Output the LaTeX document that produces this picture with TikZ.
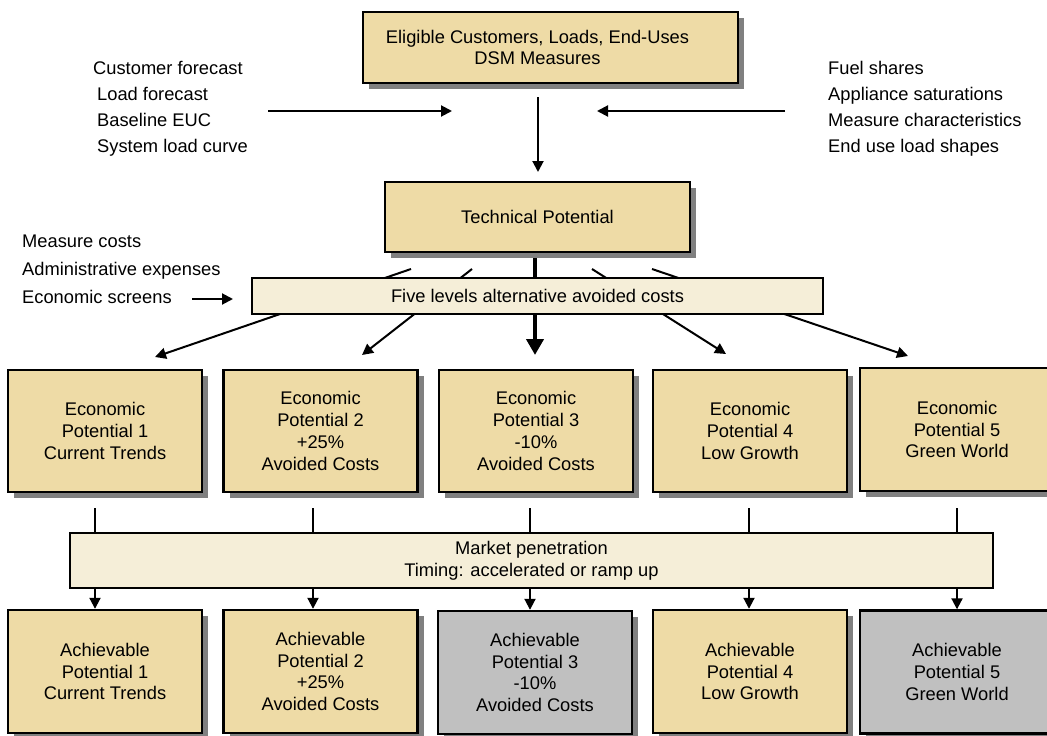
\documentclass[tikz,border=0pt]{standalone}
\usepackage{fontspec}
\setmainfont{Liberation Sans}
\usetikzlibrary{arrows.meta,shadows}
\definecolor{tanfill}{HTML}{EEDBA6}
\definecolor{creamfill}{HTML}{F5EED8}
\definecolor{greyfill}{HTML}{C0C0C0}
\definecolor{shadowgrey}{HTML}{808080}
\begin{document}
\begin{tikzpicture}[x=1pt,y=-1pt,
  every node/.style={font=\fontsize{18.3}{21.8}\selectfont, inner sep=0pt, align=center},
  shadowed/.style={drop shadow={shadow xshift=6pt, shadow yshift=-6pt, fill=shadowgrey, opacity=1}},
  tanbox/.style={draw=black, line width=2.4pt, fill=tanfill, shadowed},
  greybox/.style={draw=black, line width=2.4pt, fill=greyfill, shadowed},
  bar/.style={draw=black, line width=1.5pt, fill=creamfill},
  lbl/.style={anchor=base west},
  arr/.style={line width=2pt, -{Triangle[width=11pt,length=11pt]}},
  thickarr/.style={line width=4pt, -{Triangle[width=17pt,length=16pt]}},
  ln/.style={line width=2pt}
]
\useasboundingbox (0,0) rectangle (1047,736);

% top
\node[tanbox, minimum width=375pt, minimum height=71pt] (top) at (550.5,47.5)
  {\hspace*{-26pt}Eligible Customers, Loads, End-Uses\\\hspace*{-26pt}DSM Measures};
\node[lbl] (l1) at (93,74) {Customer forecast};
\node[lbl] (l2) at (97,100) {Load forecast};
\node[lbl] (l3) at (97,126) {Baseline EUC};
\node[lbl] (l4) at (97,152) {System load curve};
\node[lbl] (r1) at (828,74) {Fuel shares};
\node[lbl] (r2) at (828,100) {Appliance saturations};
\node[lbl] (r3) at (828,126) {Measure characteristics};
\node[lbl] (r4) at (828,152) {End use load shapes};
\coordinate (la0) at (268,111);
\coordinate (la1) at (452,111);
\coordinate (ra0) at (785,111);
\coordinate (ra1) at (597,111);
\draw[arr] (la0) -- (la1);
\draw[arr] (ra0) -- (ra1);

\node[tanbox, minimum width=305pt, minimum height=70pt] (tech) at (537.5,217) {Technical Potential};
\coordinate (va0) at (538,97);
\coordinate (va1) at (538,172);
\draw[arr] (va0) -- (va1);

\node[lbl] (m1) at (22,247) {Measure costs};
\node[lbl] (m2) at (22,275) {Administrative expenses};
\node[lbl] (m3) at (22,303) {Economic screens};
\coordinate (ea0) at (192,299);
\coordinate (ea1) at (233,299);
\draw[arr] (ea0) -- (ea1);

% economic boxes
\node[tanbox, minimum width=194pt, minimum height=122pt] (e1) at (105,431) {Economic\\Potential 1\\Current Trends};
\node[tanbox, minimum width=194pt, minimum height=122pt] (e2) at (320.5,431) {Economic\\Potential 2\\+25\%\\Avoided Costs};
\node[tanbox, minimum width=194pt, minimum height=122pt] (e3) at (536,431) {Economic\\Potential 3\\-10\%\\Avoided Costs};
\node[tanbox, minimum width=194pt, minimum height=122pt] (e4) at (750,431) {Economic\\Potential 4\\Low Growth};
\node[tanbox, minimum width=194pt, minimum height=123pt] (e5) at (957,429.5) {Economic\\Potential 5\\Green World};

% fan lines (behind bar)
\coordinate (f1s) at (411,269); \coordinate (f1e) at (155,357);
\coordinate (f2s) at (472,269); \coordinate (f2e) at (362,355);
\coordinate (f3s) at (535,258); \coordinate (f3e) at (535,355);
\coordinate (f4s) at (592,269); \coordinate (f4e) at (726,354);
\coordinate (f5s) at (652,269); \coordinate (f5e) at (908,356);
\draw[arr] (f1s) -- (f1e);
\draw[arr] (f2s) -- (f2e);
\draw[thickarr] (f3s) -- (f3e);
\draw[arr] (f4s) -- (f4e);
\draw[arr] (f5s) -- (f5e);

\node[bar, minimum width=571pt, minimum height=36pt] (five) at (537.5,296) {Five levels alternative avoided costs};

% market bar
\node[bar, minimum width=923pt, minimum height=55pt] (mkt) at (531.5,560.5) {Market penetration\\Timing: accelerated or ramp up};

% achievable boxes
\node[tanbox, minimum width=194pt, minimum height=123pt] (a1) at (105,671.5) {Achievable\\Potential 1\\Current Trends};
\node[tanbox, minimum width=194pt, minimum height=123pt] (a2) at (320.5,671.5) {Achievable\\Potential 2\\+25\%\\Avoided Costs};
\node[greybox, minimum width=194pt, minimum height=123pt] (a3) at (535,672.5) {Achievable\\Potential 3\\-10\%\\Avoided Costs};
\node[tanbox, minimum width=194pt, minimum height=123pt] (a4) at (750,671.5) {Achievable\\Potential 4\\Low Growth};
\node[greybox, minimum width=194pt, minimum height=123pt] (a5) at (957,672) {Achievable\\Potential 5\\Green World};

% vertical connectors through market bar
\foreach \i/\x in {1/95,2/313,3/530,4/749,5/957}{
  \coordinate (t\i) at (\x,508);
  \draw[ln] (t\i) -- (t\i |- mkt.north);
  \draw[arr] (t\i |- mkt.south) -- (t\i |- a\i.north);
}
\end{tikzpicture}
\end{document}
